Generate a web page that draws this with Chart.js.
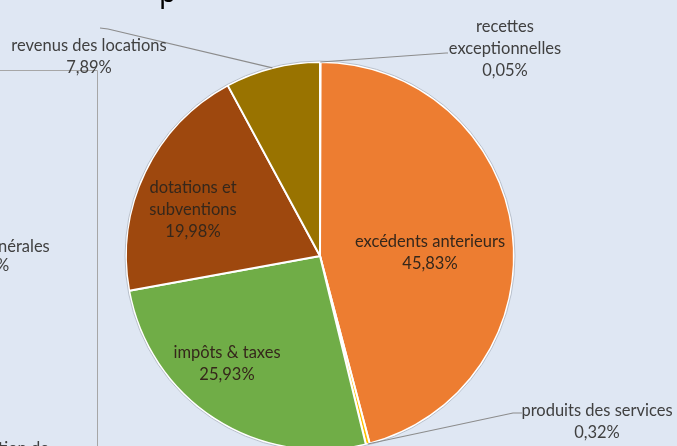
<!DOCTYPE html>
<html>
<head>
<meta charset="utf-8">
<script src="https://cdn.jsdelivr.net/npm/chart.js@4.4.1/dist/chart.umd.min.js"></script>
<style>
  html, body { margin: 0; padding: 0; background: #dfe7f3; }
  #wrap { width: 677px; height: 446px; overflow: hidden; position: relative; background: #dfe7f3; }
  canvas { display: block; }
</style>
</head>
<body>
<div id="wrap"><canvas id="pie" width="677" height="460"></canvas></div>
<script>
// données (sens horaire depuis midi)
const categories = ['recettes exceptionnelles', 'excédents anterieurs', 'produits des services', 'impôts & taxes', 'dotations et subventions', 'revenus des locations'];
const values = [0.05, 45.83, 0.32, 25.93, 19.98, 7.89];
const colors = ['#5b9bd5', '#ed7d31', '#ffc000', '#70ad47', '#9e480e', '#997300'];

// étiquettes : lignes de texte + position
const labelLines = [
  ['recettes', 'exceptionnelles'],
  ['excédents anterieurs'],
  ['produits des services'],
  ['impôts & taxes'],
  ['dotations et', 'subventions'],
  ['revenus des locations']
];
const labelPos = [[505, 27], [430, 242], [597, 411], [227, 353], [193, 188], [89, 46]];
// lignes de rappel : coude puis petit palier (null = étiquette intérieure)
const leaderElbow = [[446, 53], null, [513, 413], null, null, [108, 29]];
const leaderEnd = [[448, 53], null, [522, 413], null, null, [100, 28]];

const FONT = '16.5px Lato, "Noto Sans", sans-serif';
const fmt = v => v.toFixed(2).replace('.', ',') + '%';

const labelsPlugin = {
  id: 'labels',
  afterDatasetsDraw(chart) {
    const ctx = chart.ctx;
    const arcs = chart.getDatasetMeta(0).data;
    ctx.save();
    // contour léger du camembert
    const a0 = arcs[0];
    ctx.strokeStyle = '#b8c0cc';
    ctx.lineWidth = 1;
    ctx.beginPath();
    ctx.arc(a0.x, a0.y, a0.outerRadius + 1, 0, Math.PI * 2);
    ctx.stroke();

    ctx.font = FONT;
    ctx.textAlign = 'center';
    ctx.textBaseline = 'middle';
    arcs.forEach((arc, i) => {
      const [lx, ly] = labelPos[i];
      const lines = labelLines[i].concat([fmt(values[i])]);
      const elbow = leaderElbow[i];
      if (elbow) {
        const mid = (arc.startAngle + arc.endAngle) / 2;
        const px = arc.x + Math.cos(mid) * arc.outerRadius;
        const py = arc.y + Math.sin(mid) * arc.outerRadius;
        ctx.strokeStyle = '#8c8c8c';
        ctx.lineWidth = 1.2;
        ctx.beginPath();
        ctx.moveTo(px, py);
        ctx.lineTo(elbow[0], elbow[1]);
        ctx.lineTo(leaderEnd[i][0], leaderEnd[i][1]);
        ctx.stroke();
        ctx.fillStyle = '#404040';
      } else {
        ctx.fillStyle = '#35271b';
      }
      lines.forEach((t, k) => ctx.fillText(t, lx, ly + k * 22));
    });
    ctx.restore();
  }
};

// décor hors camembert (morceaux d'un autre graphique à gauche, titre coupé)
const decorPlugin = {
  id: 'decor',
  beforeDatasetsDraw(chart) {
    const ctx = chart.ctx;
    ctx.save();
    ctx.strokeStyle = '#a6a6a6';
    ctx.lineWidth = 1;
    ctx.beginPath();
    ctx.moveTo(0, 70.5);
    ctx.lineTo(97.5, 70.5);
    ctx.lineTo(97.5, 460);
    ctx.stroke();
    ctx.fillStyle = '#404040';
    ctx.font = FONT;
    ctx.textAlign = 'left';
    ctx.textBaseline = 'middle';
    ctx.fillText('nérales', -2, 247);
    ctx.fillText('%', -4, 266);
    ctx.fillText('tion de', -2, 449);
    ctx.fillStyle = '#000';
    ctx.font = '28px "Noto Sans", sans-serif';
    ctx.textBaseline = 'alphabetic';
    ctx.fillText('p', 159, 2);
    ctx.restore();
  }
};

new Chart(document.getElementById('pie'), {
  type: 'pie',
  data: {
    labels: categories,
    datasets: [{
      data: values,
      backgroundColor: colors,
      borderColor: '#ffffff',
      borderWidth: 2
    }]
  },
  options: {
    responsive: false,
    animation: false,
    layout: { padding: { left: 125, right: 162, top: 61, bottom: 9 } },
    plugins: {
      legend: { display: false },
      tooltip: { enabled: false }
    }
  },
  plugins: [decorPlugin, labelsPlugin]
});
</script>
</body>
</html>
